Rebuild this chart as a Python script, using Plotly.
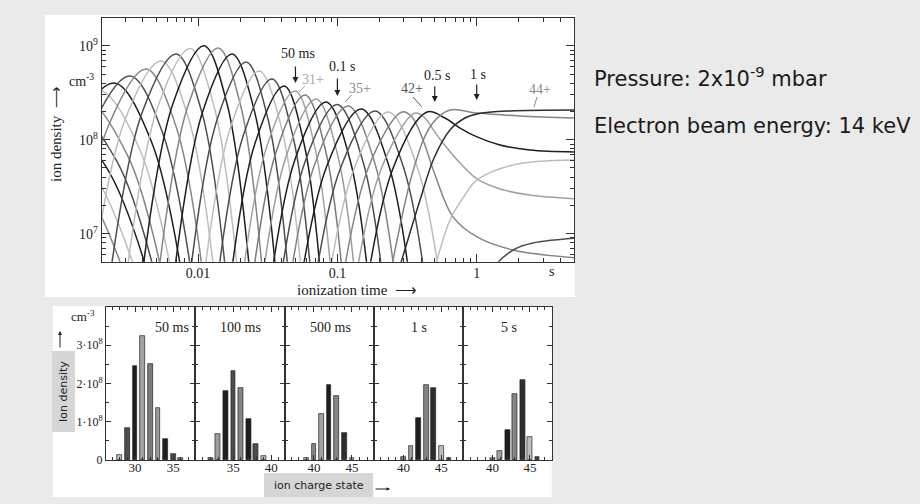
import math
import plotly.graph_objects as go

W, H = 920, 504

# ---------------------------------------------------------------------------
# Ion density evolution per charge state: sampled (time [s], density [cm^-3])
# ---------------------------------------------------------------------------
ion_time = {
    12: [3.74e-5, 1.29e-4, 4.47e-4, 1.42e-3, 4.52e-3],
    13: [5.94e-5, 1.89e-4, 6.01e-4, 1.76e-3, 5.16e-3],
    14: [9.43e-5, 2.76e-4, 8.09e-4, 2.18e-3, 5.88e-3],
    15: [1.55e-4, 4.11e-4, 1.09e-3, 2.59e-3, 6.18e-3],
    16: [2.42e-4, 5.91e-4, 1.44e-3, 3.09e-3, 6.60e-3],
    17: [3.78e-4, 8.50e-4, 1.91e-3, 3.76e-3, 7.41e-3],
    18: [5.62e-4, 1.18e-3, 2.49e-3, 4.59e-3, 8.46e-3],
    19: [8.35e-4, 1.65e-3, 3.24e-3, 5.59e-3, 9.65e-3],
    20: [1.20e-3, 2.26e-3, 4.23e-3, 6.95e-3, 1.14e-2],
    21: [1.68e-3, 3.01e-3, 5.42e-3, 8.54e-3, 1.35e-2],
    22: [2.29e-3, 3.99e-3, 6.94e-3, 1.06e-2, 1.61e-2],
    23: [3.04e-3, 5.16e-3, 8.75e-3, 1.30e-2, 1.94e-2],
    24: [3.96e-3, 6.61e-3, 1.10e-2, 1.61e-2, 2.36e-2],
    25: [5.16e-3, 8.47e-3, 1.39e-2, 2.02e-2, 2.92e-2],
    26: [6.60e-3, 1.08e-2, 1.75e-2, 2.54e-2, 3.68e-2],
    27: [8.47e-3, 1.37e-2, 2.21e-2, 3.18e-2, 4.57e-2],
    28: [1.05e-2, 1.70e-2, 2.74e-2, 3.98e-2, 5.76e-2],
    29: [1.30e-2, 2.10e-2, 3.39e-2, 4.80e-2, 6.79e-2],
    30: [1.59e-2, 2.56e-2, 4.14e-2, 5.76e-2, 8.02e-2],
    31: [1.91e-2, 3.08e-2, 4.97e-2, 6.92e-2, 9.63e-2],
    32: [2.24e-2, 3.62e-2, 5.85e-2, 8.28e-2, 0.117],
    33: [2.60e-2, 4.28e-2, 7.02e-2, 0.101, 0.145],
    34: [2.97e-2, 4.96e-2, 8.28e-2, 0.123, 0.183],
    35: [3.45e-2, 5.85e-2, 9.93e-2, 0.153, 0.235],
    36: [4.00e-2, 6.90e-2, 0.119, 0.186, 0.291],
    37: [4.73e-2, 8.37e-2, 0.148, 0.235, 0.373],
    38: [5.94e-2, 0.105, 0.186, 0.300, 0.485],
    39: [7.38e-2, 0.131, 0.231, 0.379, 0.623],
    40: [9.30e-2, 0.165, 0.291, 0.343, 0.412, 0.494, 0.676, 1.005, 1.82, 5.3],
    41: [0.115, 0.204, 0.361, 0.425, 0.494, 0.573, 0.759, 1.005, 1.47, 2.41, 5.3],
    42: [0.141, 0.249, 0.440, 0.592, 0.759, 1.005, 1.47, 2.41, 5.3],
    43: [0.196, 0.355, 0.478, 0.643, 1.005, 2.05, 5.3],
    44: [0.202, 0.281, 0.392, 0.494, 0.643, 0.824, 1.005, 1.73, 5.3],
    45: [0.392, 0.502, 0.643, 0.824, 1.005, 1.82, 5.3],
    46: [1.056, 1.353, 1.884, 2.536, 5.3],
}
ion_density = {
    12: [5.64e5, 3.86e7, 1.58e8, 3.86e7, 5.64e5],
    13: [6.54e5, 4.47e7, 1.83e8, 4.47e7, 6.54e5],
    14: [7.57e5, 5.18e7, 2.12e8, 5.18e7, 7.57e5],
    15: [8.79e5, 6.01e7, 2.46e8, 6.01e7, 8.79e5],
    16: [1.02e6, 6.97e7, 2.85e8, 6.97e7, 1.02e6],
    17: [1.21e6, 8.26e7, 3.38e8, 8.26e7, 1.21e6],
    18: [1.43e6, 9.80e7, 4.01e8, 9.80e7, 1.43e6],
    19: [1.70e6, 1.16e8, 4.76e8, 1.16e8, 1.70e6],
    20: [2.02e6, 1.38e8, 5.65e8, 1.38e8, 2.02e6],
    21: [2.45e6, 1.68e8, 6.87e8, 1.68e8, 2.45e6],
    22: [2.91e6, 2.00e8, 8.16e8, 2.00e8, 2.91e6],
    23: [3.34e6, 2.28e8, 9.34e8, 2.28e8, 3.34e6],
    24: [3.57e6, 2.44e8, 1.00e9, 2.44e8, 3.57e6],
    25: [3.38e6, 2.31e8, 9.46e8, 2.31e8, 3.38e6],
    26: [2.91e6, 2.00e8, 8.16e8, 2.00e8, 2.91e6],
    27: [2.40e6, 1.64e8, 6.71e8, 1.64e8, 2.40e6],
    28: [1.92e6, 1.32e8, 5.38e8, 1.32e8, 1.92e6],
    29: [1.58e6, 1.08e8, 4.43e8, 1.08e8, 1.58e6],
    30: [1.33e6, 9.10e7, 3.72e8, 9.10e7, 1.33e6],
    31: [1.18e6, 8.07e7, 3.30e8, 8.07e7, 1.18e6],
    32: [1.07e6, 7.31e7, 2.99e8, 7.31e7, 1.07e6],
    33: [9.68e5, 6.63e7, 2.71e8, 6.63e7, 9.68e5],
    34: [9.00e5, 6.16e7, 2.52e8, 6.16e7, 9.00e5],
    35: [8.46e5, 5.79e7, 2.37e8, 5.79e7, 8.46e5],
    36: [8.14e5, 5.57e7, 2.28e8, 5.57e7, 8.14e5],
    37: [7.57e5, 5.18e7, 2.12e8, 5.18e7, 7.57e5],
    38: [7.21e5, 4.94e7, 2.02e8, 4.94e7, 7.21e5],
    39: [7.04e5, 4.82e7, 1.97e8, 4.82e7, 7.04e5],
    40: [7.04e5, 4.82e7, 1.97e8, 1.74e8, 9.93e7, 4.53e7, 1.51e7, 9.23e6, 6.71e6, 5.52e6],
    41: [6.86e5, 4.69e7, 1.92e8, 1.70e8, 1.24e8, 9.22e7, 5.65e7, 3.82e7, 2.99e7, 2.58e7, 2.34e7],
    42: [7.04e5, 4.82e7, 1.97e8, 1.70e8, 1.33e8, 1.07e8, 8.78e7, 7.77e7, 7.40e7],
    43: [7.40e5, 5.06e7, 1.47e8, 2.07e8, 1.92e8, 1.79e8, 1.70e8],
    44: [9.45e5, 4.53e6, 2.28e7, 6.39e7, 1.27e8, 1.70e8, 1.88e8, 2.02e8, 2.07e8],
    45: [1.54e6, 4.53e6, 1.40e7, 2.58e7, 3.73e7, 5.38e7, 6.08e7],
    46: [1.97e6, 4.53e6, 6.87e6, 7.96e6, 9.00e6],
}

# ---------------------------------------------------------------------------
# Charge state distributions at five breeding times
# ---------------------------------------------------------------------------
charge_50ms = [28, 29, 30, 31, 32, 33, 34, 35, 36]
density_50ms = [0.14e8, 0.84e8, 2.46e8, 3.25e8, 2.51e8, 1.37e8, 0.54e8, 0.15e8, 0.05e8]
charge_100ms = [32, 33, 34, 35, 36, 37, 38, 39]
density_100ms = [0.05e8, 0.69e8, 1.81e8, 2.33e8, 1.88e8, 1.06e8, 0.42e8, 0.11e8]
charge_500ms = [39, 40, 41, 42, 43, 44, 45]
density_500ms = [0.05e8, 0.43e8, 1.19e8, 1.96e8, 1.68e8, 0.70e8, 0.05e8]
charge_1s = [40, 41, 42, 43, 44, 45, 46]
density_1s = [0.09e8, 0.37e8, 1.09e8, 1.96e8, 1.87e8, 0.37e8, 0.04e8]
charge_5s = [40, 41, 42, 43, 44, 45, 46]
density_5s = [0.06e8, 0.24e8, 0.78e8, 1.72e8, 2.09e8, 0.61e8, 0.07e8]

panel_titles = ["50 ms", "100 ms", "500 ms", "1 s", "5 s"]
panel_ticks = [[30, 35], [35, 40], [40, 45], [40, 45], [40, 45]]
panel_ranges = [[26.2, 37.9], [30.0, 41.8], [36.2, 47.9], [36.1, 47.9], [36.1, 47.9]]

time_ticks = [0.01, 0.1, 1]
time_ticktext = ["0.01", "0.1", "1"]
density_ticks = [1e7, 1e8, 1e9]
density_ticktext = ["10<sup>7</sup>", "10<sup>8</sup>", "10<sup>9</sup>"]
bar_ticks = [0, 1e8, 2e8, 3e8]
bar_ticktext = ["0", "1·10<sup>8</sup>", "2·10<sup>8</sup>", "3·10<sup>8</sup>"]

snapshot_times = [0.05, 0.1, 0.5, 1.0]
snapshot_labels = ["50 ms", "0.1 s", "0.5 s", "1 s"]
charge_labels = ["31+", "35+", "42+", "44+"]

# ---------------------------------------------------------------------------
# Styling
# ---------------------------------------------------------------------------
K, D, G, L = "#1e1e1e", "#4d4d4d", "#858585", "#bdbdbd"
charge_color = {
    12: G, 13: L, 14: K, 15: D, 16: G, 17: L, 18: K, 19: D, 20: G, 21: L,
    22: D, 23: L, 24: K, 25: G, 26: K, 27: D, 28: L, 29: D, 30: K,
    31: "#a3a3a3", 32: "#7a7a7a", 33: "#9c9c9c", 34: K, 35: D, 36: G, 37: K,
    38: D, 39: L, 40: G, 41: "#a0a0a0", 42: K, 43: G, 44: "#2e2e2e", 45: L, 46: D,
}
SERIF = "Liberation Serif"
SANS = "DejaVu Sans"
INK = "#222222"


def px(x):
    return x / W


def py(y):
    return 1 - y / H


def label(x, y, text, font, xanchor="center", **extra):
    """Paper-anchored text placed at a pixel position of the page."""
    return dict(x=px(x), y=py(y), xref="paper", yref="paper", text=text, showarrow=False,
                xanchor=xanchor, yanchor="middle", font=font, **extra)


fig = go.Figure()

for q in sorted(ion_time):
    fig.add_trace(go.Scatter(
        x=ion_time[q], y=ion_density[q], mode="lines",
        line=dict(color=charge_color[q], width=1.5, shape="spline", smoothing=1.0),
        xaxis="x", yaxis="y", hoverinfo="skip", showlegend=False,
    ))

bar_sets = [
    (charge_50ms, density_50ms),
    (charge_100ms, density_100ms),
    (charge_500ms, density_500ms),
    (charge_1s, density_1s),
    (charge_5s, density_5s),
]
for i, (qs, dens) in enumerate(bar_sets):
    fig.add_trace(go.Bar(
        x=qs, y=dens, width=0.62,
        marker=dict(color=[charge_color[q] for q in qs], line=dict(color="#222", width=0.7)),
        xaxis=f"x{i + 2}", yaxis=f"y{i + 2}", hoverinfo="skip", showlegend=False,
    ))

frame = dict(showline=True, linecolor="#333", linewidth=1, mirror="allticks",
             showgrid=False, zeroline=False, ticks="inside", tickcolor="#333",
             automargin=False)

layout = dict(
    width=W, height=H, autosize=False,
    margin=dict(l=0, r=0, t=0, b=0, pad=0, autoexpand=False),
    paper_bgcolor="#eaeaea", plot_bgcolor="white",
    showlegend=False, bargap=0,
    xaxis=dict(
        type="log", domain=[px(101.7), px(574)], range=[-2.692, 0.6985], anchor="y",
        tickvals=time_ticks, ticktext=time_ticktext, ticklen=8, ticklabelstandoff=-2,
        minor=dict(ticks="inside", ticklen=4, dtick="D1", tickcolor="#333", showgrid=False),
        tickfont=dict(family=SERIF, size=14, color=INK), **frame,
    ),
    yaxis=dict(
        type="log", domain=[py(261.7), py(18)], range=[6.702, 9.2947], anchor="x",
        tickvals=density_ticks, ticktext=density_ticktext, ticklen=8,
        minor=dict(ticks="inside", ticklen=4, dtick="D1", tickcolor="#333", showgrid=False),
        tickfont=dict(family=SERIF, size=14, color=INK), **frame,
    ),
)

edges = [106, 195.3, 285, 374, 463.3, 551.7]
for i in range(5):
    layout[f"xaxis{i + 2}"] = dict(
        domain=[px(edges[i]), px(edges[i + 1])], range=panel_ranges[i], anchor=f"y{i + 2}",
        tickvals=panel_ticks[i], ticklen=5, ticklabelstandoff=-5,
        minor=dict(ticks="inside", ticklen=3, dtick=1, tick0=0, tickcolor="#333"),
        tickfont=dict(family=SERIF, size=13, color=INK), **frame,
    )
    layout[f"yaxis{i + 2}"] = dict(
        domain=[py(460), py(307)], range=[0, 4e8], anchor=f"x{i + 2}",
        tickvals=bar_ticks, ticktext=bar_ticktext, showticklabels=(i == 0), ticklen=5,
        minor=dict(ticks="inside", ticklen=3, dtick=0.5e8, tickcolor="#333"),
        tickfont=dict(family=SERIF, size=12, color=INK), **frame,
    )

shapes = [
    # white panels behind the two figures
    dict(type="rect", xref="paper", yref="paper", x0=px(45), x1=px(575), y0=py(297), y1=py(15),
         fillcolor="white", line=dict(width=0), layer="below"),
    dict(type="rect", xref="paper", yref="paper", x0=px(52.7), x1=px(551.7), y0=py(497), y1=py(306),
         fillcolor="white", line=dict(width=0), layer="below"),
    # grey label boxes
    dict(type="rect", xref="paper", yref="paper", x0=px(52), x1=px(75), y0=py(432), y1=py(351),
         fillcolor="#d6d6d6", line=dict(width=0), layer="above"),
    dict(type="rect", xref="paper", yref="paper", x0=px(264), x1=px(373), y0=py(497), y1=py(473),
         fillcolor="#d6d6d6", line=dict(width=0), layer="above"),
]

# leader lines from charge labels to their curves
label_pos = [(313, 79, "#a8a8a8"), (360, 88.3, "#8a8a8a"), (411.7, 88.3, "#555555"), (540, 89, "#8a8a8a")]
leaders = [((305, 86), (299, 92)), ((351.7, 95), (345, 102)), ((413, 97), (421.7, 106.7)), ((537, 97), (534, 107))]
for (p0, p1), (_, _, col) in zip(leaders, label_pos):
    shapes.append(dict(type="line", xref="paper", yref="paper", x0=px(p0[0]), y0=py(p0[1]),
                       x1=px(p1[0]), y1=py(p1[1]), line=dict(color=col, width=1)))

annotations = []
serif14 = dict(family=SERIF, size=14, color=INK)

# breeding time markers
arrow_heads = [83, 96, 102, 100]
arrow_lengths = [18, 19, 17, 17]
text_pos = [(297.8, 54), (341.5, 67), (437.3, 75), (478.3, 74)]
for t, head, length, lab, (tx, ty) in zip(snapshot_times, arrow_heads, arrow_lengths, snapshot_labels, text_pos):
    annotations.append(dict(x=math.log10(t), xref="x", y=py(head), yref="paper", ax=0, ay=-length,
                            showarrow=True, text="", arrowhead=2, arrowsize=1, arrowwidth=1.2,
                            arrowcolor=INK))
    annotations.append(label(tx, ty, lab, serif14))

for lab, (tx, ty, col) in zip(charge_labels, label_pos):
    annotations.append(label(tx, ty, lab, dict(family=SERIF, size=14, color=col)))

# axis unit labels and titles of the upper figure
annotations += [
    dict(x=math.log10(3.45), xref="x", y=py(271), yref="paper", text="s", showarrow=False,
         xanchor="center", yanchor="middle", font=serif14),
    label(96, 80, "cm<sup>-3</sup>", serif14, xanchor="right"),
    label(56, 134, "ion density  ⟶", dict(family=SERIF, size=15, color=INK), textangle=-90),
    label(357, 290, "ionization time  ⟶", dict(family=SERIF, size=15, color=INK)),
]

# lower figure labels
title_px = [171.7, 240, 330, 419, 509]
for title, tx in zip(panel_titles, title_px):
    annotations.append(label(tx, 327, title, serif14))

annotations += [
    label(97, 316, "cm<sup>-3</sup>", dict(family=SERIF, size=13, color=INK), xanchor="right"),
    dict(x=px(60), y=py(331), xref="paper", yref="paper", ax=0, ay=18, showarrow=True, text="",
         arrowhead=2, arrowsize=0.8, arrowwidth=1, arrowcolor=INK),
    label(63.5, 391.5, "Ion density", dict(family=SANS, size=11, color=INK), textangle=-90),
    label(318.5, 485, "ion charge state", dict(family=SANS, size=11, color=INK)),
    dict(x=px(390), y=py(489), xref="paper", yref="paper", ax=-16, ay=0, showarrow=True, text="",
         arrowhead=2, arrowsize=0.7, arrowwidth=1, arrowcolor=INK),
]

# experimental conditions
cond_font = dict(family=SANS, size=21, color="#1a1a1a")
annotations += [
    label(592, 77, "Pressure: 2x10<sup>-9</sup> mbar", cond_font, xanchor="left"),
    label(592, 126, "Electron beam energy: 14 keV", cond_font, xanchor="left"),
]

layout["shapes"] = shapes
layout["annotations"] = annotations
fig.update_layout(**layout)

fig.write_html("out.html")
